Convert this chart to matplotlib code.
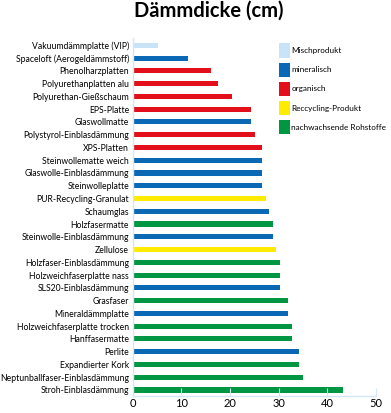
import matplotlib
matplotlib.use("Agg")
from matplotlib import pyplot as plt
from matplotlib.patches import Patch

plt.rcParams['font.family'] = ['Lato', 'DejaVu Sans']

# Daten (von oben nach unten)
materials = ['Vakuumdämmplatte (VIP)', 'Spaceloft (Aerogeldämmstoff)', 'Phenolharzplatten',
             'Polyurethanplatten alu', 'Polyurethan-Gießschaum', 'EPS-Platte', 'Glaswollmatte',
             'Polystyrol-Einblasdämmung', 'XPS-Platten', 'Steinwollematte weich',
             'Glaswolle-Einblasdämmung', 'Steinwolleplatte', 'PUR-Recycling-Granulat',
             'Schaumglas', 'Holzfasermatte', 'Steinwolle-Einblasdämmung', 'Zellulose',
             'Holzfaser-Einblasdämmung', 'Holzweichfaserplatte nass', 'SLS20-Einblasdämmung',
             'Grasfaser', 'Mineraldämmplatte', 'Holzweichfaserplatte trocken', 'Hanffasermatte',
             'Perlite', 'Expandierter Kork', 'Neptunballfaser-Einblasdämmung', 'Stroh-Einblasdämmung']
thickness = [5.3, 11.4, 16.0, 17.5, 20.5, 24.3, 24.4, 25.1, 26.6, 26.6,
             26.6, 26.6, 27.3, 28.1, 28.8, 28.8, 29.4, 30.3, 30.3, 30.3,
             31.9, 31.9, 32.7, 32.7, 34.1, 34.1, 35.0, 43.3]
group = ['misch', 'mineral', 'organ', 'organ', 'organ', 'organ', 'mineral', 'organ', 'organ', 'mineral',
         'mineral', 'mineral', 'recycl', 'mineral', 'nawaro', 'mineral', 'recycl', 'nawaro', 'nawaro', 'mineral',
         'nawaro', 'mineral', 'nawaro', 'nawaro', 'mineral', 'nawaro', 'nawaro', 'nawaro']
group_keys = ['misch', 'mineral', 'organ', 'recycl', 'nawaro']
group_labels = ['Mischprodukt', 'mineralisch', 'organisch', 'Reccycling-Produkt', 'nachwachsende Rohstoffe']
colors = {'misch': '#c9e4f8', 'mineral': '#0a68b4', 'organ': '#e30f1b',
          'recycl': '#ffeb00', 'nawaro': '#019642'}

fig = plt.figure(figsize=(3.91, 4.13), dpi=100)
ax = fig.add_axes([0.3394, 0.0412, 0.6222, 0.866])

ypos = list(range(len(materials)))
ax.barh(ypos, thickness, height=0.4, color=[colors[g] for g in group])
ax.set_yticks(ypos)
ax.set_yticklabels(materials, fontsize=6.2)
ax.set_ylim(27.47, -0.55)
ax.set_xlim(0, 50)
ax.set_xticks([0, 10, 20, 30, 40, 50])
ax.tick_params(axis='x', direction='in', length=6, width=0.8, color='#d3e7f7',
               labelsize=8, pad=1.5)
ax.tick_params(axis='y', length=0, pad=2.5)
for s in ['top', 'right']:
    ax.spines[s].set_visible(False)
for s in ['left', 'bottom']:
    ax.spines[s].set_color('#d3e7f7')
    ax.spines[s].set_linewidth(1.0)

fig.suptitle('Dämmdicke (cm)', x=0.535, y=0.998, fontsize=14.5, fontweight='bold')

handles = [Patch(facecolor=colors[k], edgecolor='none') for k in group_keys]
fig.legend(handles, group_labels, loc='upper left', bbox_to_anchor=(0.703, 0.905),
           frameon=False, fontsize=5.9, handlelength=1.35, handleheight=2.3,
           handletextpad=0.15, labelspacing=0.6, borderpad=0)

fig.savefig('out.png', dpi=100)
